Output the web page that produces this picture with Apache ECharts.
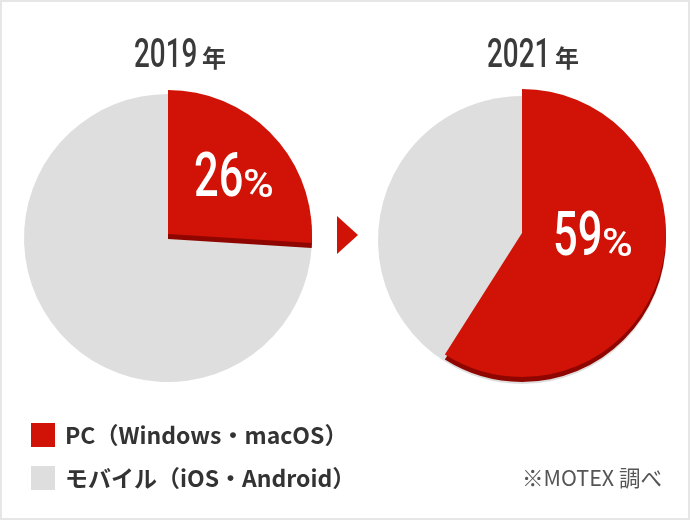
<!DOCTYPE html>
<html>
<head>
    <meta charset="utf-8">
    <title>PC / モバイル</title>
    <style>
        html, body { margin: 0; padding: 0; background: #fff; }
        #main { width: 690px; height: 520px; }
    </style>
</head>
<body>
<div id="main"></div>
<script src="https://cdn.jsdelivr.net/npm/echarts@6/dist/echarts.min.js"></script>
<script>
    var categories = ['PC（Windows・macOS）', 'モバイル（iOS・Android）'];
    var years = ['2019', '2021'];
    var values2019 = [26, 74];
    var values2021 = [59, 41];
    var note = '※MOTEX 調べ';

    var RED = '#d01306', DARK = '#8f0500', GREY = '#dedede';
    var NARROW = 'Roboto, sans-serif';
    var CJK = '"Noto Sans CJK JP", sans-serif';

    function pieLayer(name, vals, cx, cy, colors, names, z) {
        return {
            type: 'pie',
            name: name,
            silent: true,
            z: z,
            center: [cx, cy],
            radius: [0, 144],
            startAngle: 90,
            label: { show: false },
            labelLine: { show: false },
            itemStyle: { borderWidth: 0 },
            data: vals.map(function (v, i) {
                return { name: names[i], value: v, itemStyle: { color: colors[i] } };
            })
        };
    }

    function makePie(key, vals, cx, greyY, darkY, redY) {
        return [
            pieLayer(key + 'grey', vals, cx, greyY, [GREY, GREY], ['', categories[1]], 1),
            pieLayer(key + 'dark', vals, cx, darkY, [DARK, 'transparent'], ['', ''], 2),
            pieLayer(key + 'red', vals, cx, redY, [RED, 'transparent'], [categories[0], ''], 3)
        ];
    }

    function bigText(text, x, y, size, color, weight, font, sx) {
        return {
            type: 'text',
            x: x,
            y: y,
            scaleX: sx || 1,
            z: 10,
            style: {
                text: text,
                fill: color,
                fontSize: size,
                fontWeight: weight || 'normal',
                fontFamily: font,
                textAlign: 'left',
                textVerticalAlign: 'middle'
            }
        };
    }

    var chart = echarts.init(document.getElementById('main'), null, { renderer: 'canvas' });
    chart.setOption({
        animation: false,
        backgroundColor: '#fff',
        legend: {
            left: 26,
            top: 418,
            orient: 'vertical',
            icon: 'rect',
            itemWidth: 24,
            itemHeight: 24,
            itemGap: 19,
            selectedMode: false,
            textStyle: { fontSize: 23, fontWeight: 'bold', color: '#333', fontFamily: CJK, padding: [0, 0, 0, 5] },
            data: [
                { name: categories[0], itemStyle: { color: RED } },
                { name: categories[1], itemStyle: { color: GREY } }
            ]
        },
        series: [].concat(
            makePie('y2019', values2019, 168, 238, 239, 234),
            makePie('y2021', values2021, 522, 240, 238, 233)
        ),
        graphic: [
            { type: 'rect', z: 20, shape: { x: 1, y: 1, width: 688, height: 518 }, style: { fill: 'none', stroke: '#e6e6e6', lineWidth: 2 } },
            { type: 'polygon', z: 10, shape: { points: [[337, 216], [358, 235], [337, 254]] }, style: { fill: RED } },
            bigText(years[0], 134, 57, 41, '#3a3a3a', 500, NARROW, 0.68),
            bigText('年', 202, 58, 24, '#3a3a3a', 'bold', CJK),
            bigText(years[1], 487, 57, 41, '#3a3a3a', 500, NARROW, 0.68),
            bigText('年', 555, 58, 24, '#3a3a3a', 'bold', CJK),
            bigText(values2019[0], 194, 180, 62, '#fff', 500, NARROW, 0.7),
            bigText('%', 243, 187, 38, '#fff', 500, NARROW, 1.1),
            bigText(values2021[0], 553, 239, 62, '#fff', 500, NARROW, 0.7),
            bigText('%', 602, 246, 38, '#fff', 500, NARROW, 1.1),
            bigText(note, 522, 478, 21.5, '#555', 'normal', CJK)
        ]
    });
</script>
</body>
</html>
